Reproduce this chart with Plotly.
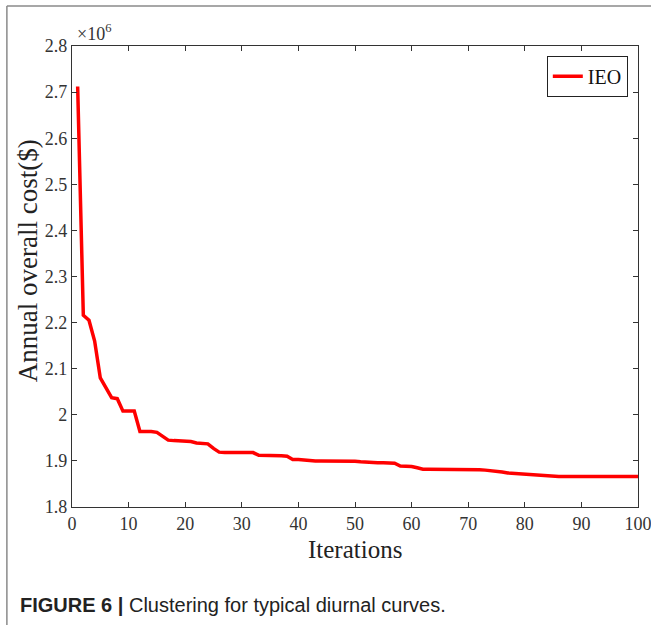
import plotly.graph_objects as go

iterations = list(range(1, 101))
# Annual overall cost in units of 1e6 $
cost_millions = [
    2.712, 2.216, 2.205, 2.160, 2.080, 2.058, 2.037, 2.035, 2.008, 2.008,
    2.008, 1.964, 1.964, 1.964, 1.962, 1.953, 1.945, 1.944, 1.943, 1.943,
    1.942, 1.939, 1.938, 1.937, 1.927, 1.919, 1.918, 1.918, 1.918, 1.918,
    1.918, 1.918, 1.912, 1.912, 1.912, 1.912, 1.911, 1.910, 1.903, 1.903,
    1.902, 1.900, 1.900, 1.900, 1.900, 1.900, 1.900, 1.900, 1.899, 1.899,
    1.898, 1.897, 1.896, 1.896, 1.896, 1.896, 1.895, 1.889, 1.889, 1.888,
    1.885, 1.882, 1.882, 1.882, 1.882, 1.882, 1.882, 1.882, 1.882, 1.882,
    1.882, 1.881, 1.880, 1.879, 1.878, 1.876, 1.874, 1.873, 1.872, 1.871,
    1.870, 1.869, 1.868, 1.867, 1.867, 1.866, 1.866, 1.866, 1.866, 1.866,
    1.866, 1.866, 1.866, 1.866, 1.866, 1.866, 1.866, 1.866, 1.866, 1.866,
]
series_name = "IEO"
x_tick_vals = [0, 10, 20, 30, 40, 50, 60, 70, 80, 90, 100]
y_tick_vals = [1.8, 1.9, 2.0, 2.1, 2.2, 2.3, 2.4, 2.5, 2.6, 2.7, 2.8]
y_tick_text = ["1.8", "1.9", "2", "2.1", "2.2", "2.3", "2.4", "2.5", "2.6", "2.7", "2.8"]

serif = "Liberation Serif"
axis_col = "#333333"

fig = go.Figure()
fig.add_trace(go.Scatter(
    x=iterations, y=cost_millions, mode="lines", name=series_name,
    line=dict(color="#ff0000", width=3.5),
))

axis_common = dict(
    showgrid=False, zeroline=False, showline=True, linecolor=axis_col, linewidth=1.2,
    mirror="ticks", ticks="inside", ticklen=5, tickwidth=1.2, tickcolor=axis_col,
    tickfont=dict(family=serif, size=18, color="#333333"),
)

fig.update_layout(
    width=664, height=625, autosize=False,
    margin=dict(l=72, r=14, t=46, b=118),
    paper_bgcolor="white", plot_bgcolor="white",
    xaxis=dict(range=[0, 100], tickvals=x_tick_vals, **axis_common),
    yaxis=dict(range=[1.8, 2.8], tickvals=y_tick_vals, ticktext=y_tick_text, **axis_common),
    legend=dict(
        x=0.982, y=0.979, xanchor="right", yanchor="top",
        bordercolor="#222222", borderwidth=1, bgcolor="white",
        font=dict(family=serif, size=20, color="#111111"),
        itemwidth=30, tracegroupgap=0,
    ),
    showlegend=True,
)

fig.add_annotation(xref="paper", yref="paper", x=0.005, y=1.0, xanchor="left", yanchor="bottom",
                   text="×10<sup>6</sup>", showarrow=False,
                   font=dict(family=serif, size=18, color="#333333"))
fig.add_annotation(xref="paper", yref="paper", x=0.5, y=-0.093, xanchor="center", yanchor="middle",
                   text="Iterations", showarrow=False,
                   font=dict(family=serif, size=25, color="#222222"))
fig.add_annotation(xref="paper", yref="paper", x=(28 - 72) / 565, y=0.535, xanchor="center", yanchor="middle",
                   text="Annual overall cost($)", textangle=-90, showarrow=False,
                   font=dict(family=serif, size=27, color="#222222"))
fig.add_annotation(xref="paper", yref="paper", x=(18 - 72) / 565, y=(507 - 605) / 461,
                   xanchor="left", yanchor="middle",
                   text="<b>FIGURE 6 |</b> Clustering for typical diurnal curves.", showarrow=False,
                   font=dict(family="Liberation Sans", size=20, color="#222222"))

# outer frame lines (top and left)
fx0 = (7 - 72) / 565
fx1 = (665 - 72) / 565
fy_top = (507 - 6) / 461
fy_bot = (507 - 625) / 461
fig.add_shape(type="line", xref="paper", yref="paper", x0=fx0, x1=fx1, y0=fy_top, y1=fy_top,
              line=dict(color="#8a8a8a", width=1.5))
fig.add_shape(type="line", xref="paper", yref="paper", x0=fx0, x1=fx0, y0=fy_top, y1=fy_bot,
              line=dict(color="#8a8a8a", width=1.5))

fig.write_html("out.html", config={"responsive": False})
